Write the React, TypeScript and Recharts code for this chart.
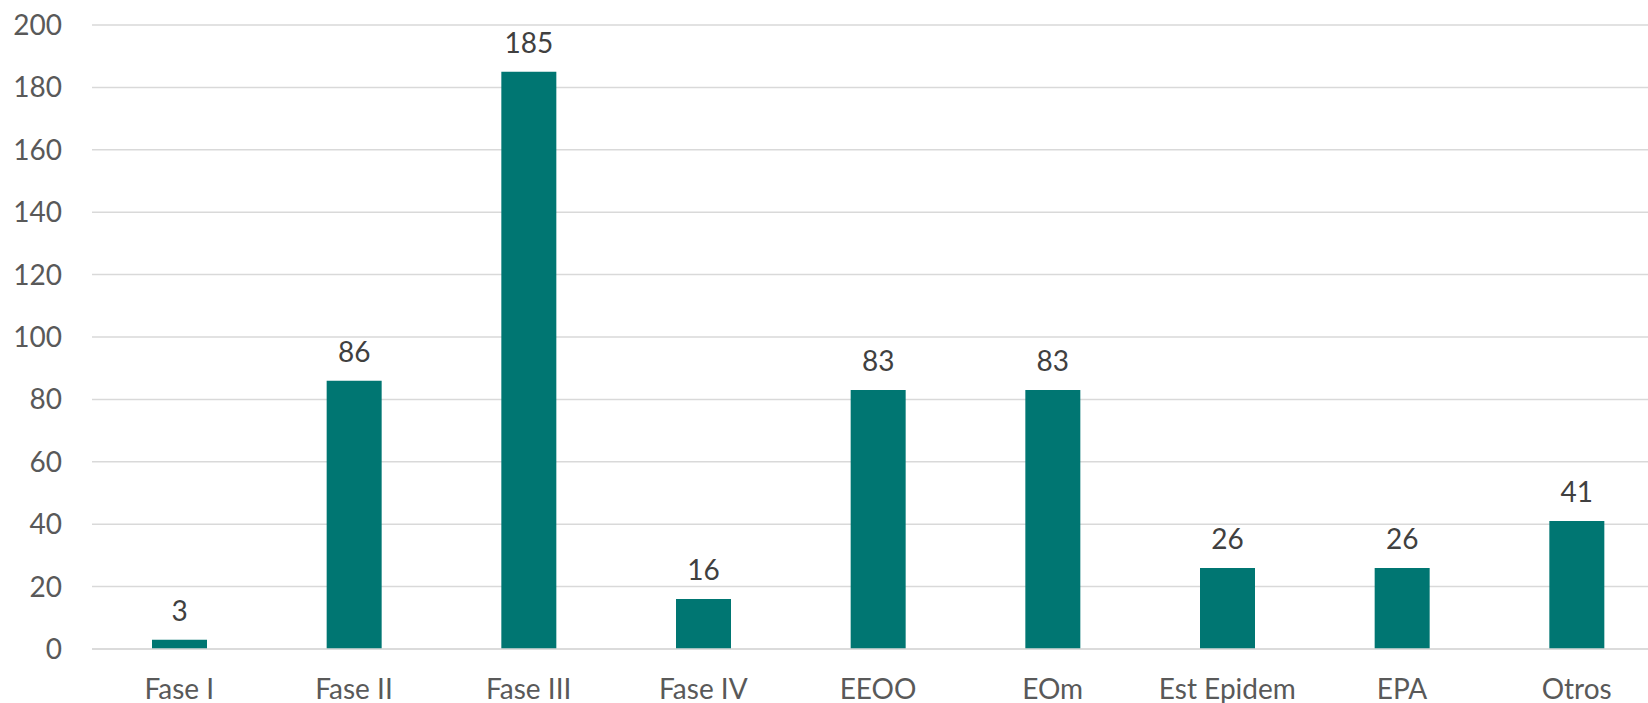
import { BarChart, Bar, XAxis, YAxis, CartesianGrid, LabelList } from 'recharts';

const categories = ['Fase I', 'Fase II', 'Fase III', 'Fase IV', 'EEOO', 'EOm', 'Est Epidem', 'EPA', 'Otros'];
const counts = [3, 86, 185, 16, 83, 83, 26, 26, 41];
const yTicks = [0, 20, 40, 60, 80, 100, 120, 140, 160, 180, 200];

const data = categories.map((name, i) => ({ name, value: counts[i] }));

const font = 'Lato, "Open Sans", sans-serif';

export default function App() {
  return (
    <div style={{ position: 'fixed', left: 0, top: 0, width: 1648, height: 703, overflow: 'hidden', background: '#fff' }}>
      <BarChart
        width={1664}
        height={720}
        data={data}
        margin={{ top: 25, right: 0, left: 0, bottom: 0 }}
        barSize={55}
      >
        <CartesianGrid vertical={false} stroke="#d9d9d9" strokeWidth={1.5} />
        <XAxis
          dataKey="name"
          axisLine={{ stroke: '#d9d9d9', strokeWidth: 1.5 }}
          tickLine={false}
          tickSize={0}
          tickMargin={30}
          height={71}
          interval={0}
          tick={{ fill: '#595959', fontSize: 28, fontFamily: font }}
        />
        <YAxis
          domain={[0, 200]}
          ticks={yTicks}
          axisLine={false}
          tickLine={false}
          tickSize={0}
          tickMargin={30}
          width={92}
          tick={{ fill: '#595959', fontSize: 28, fontFamily: font }}
        />
        <Bar dataKey="value" fill="#007672" isAnimationActive={false}>
          <LabelList
            dataKey="value"
            position="top"
            offset={19}
            style={{ fill: '#404040', fontSize: 28, fontFamily: font }}
          />
        </Bar>
      </BarChart>
    </div>
  );
}
